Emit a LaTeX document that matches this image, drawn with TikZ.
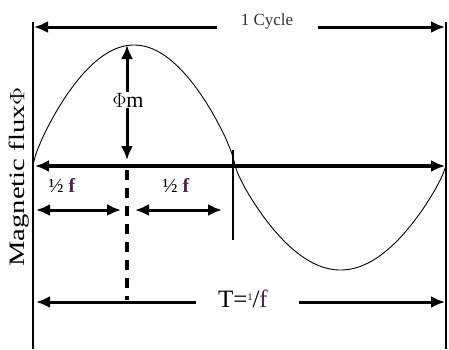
\documentclass[tikz,border=0pt]{standalone}
\usepackage{fontspec}
\setmainfont{Liberation Serif}
\usetikzlibrary{arrows.meta}
\definecolor{fpurple}{HTML}{4A2848}
\definecolor{txtgray}{HTML}{333333}
\tikzset{
  tip/.tip={Latex[length=14pt,width=12pt]},
  dimarrow/.style={line width=3pt, tip-tip},
  onearrow/.style={line width=3pt, -tip},
  axisline/.style={line width=3.2pt, tip-tip},
  thinline/.style={line width=1.3pt},
  curve/.style={line width=0.9pt},
  lbl/.style={inner sep=1pt, fill=white}
}
\begin{document}
\begin{tikzpicture}[x=1pt,y=-1pt]
\useasboundingbox (0,0) rectangle (449,349);
\fill[white] (0,0) rectangle (449,349);
% frame verticals
\coordinate (LT) at (33,22);
\coordinate (LB) at (33,349);
\coordinate (RT) at (446,22);
\coordinate (RB) at (446,349);
\draw[thinline] (LT) -- (LB);
\draw[thinline] (RT) -- (RB);
% sine curve
\draw[curve, domain=33:235, samples=90, smooth, variable=\t] plot (\t,{165-120*pow(max(sin((\t-33)/202*180),0.00001),0.78)});
\draw[curve, domain=235:446, samples=90, smooth, variable=\t] plot (\t,{165+105*pow(max(sin((\t-235)/211*180),0.00001),0.8)});
% top arrow
\coordinate (cL) at (34,27);
\coordinate (cR) at (445,27);
\coordinate (cGL) at (217,27);
\coordinate (cGR) at (318,27);
\node[inner sep=0pt, text=txtgray] (cyc) at (267,21) {\fontsize{17}{18}\selectfont 1 Cycle};
\draw[onearrow] (cGL) -- (cL);
\draw[onearrow] (cGR) -- (cR);
% axis
\coordinate (aL) at (35,166);
\coordinate (aR) at (445,166);
\draw[axisline] (aL) -- (aR);
% Phi m arrow
\coordinate (pT) at (127,45);
\coordinate (pB) at (127,160);
\draw[dimarrow] (pT) -- (pB);
\node[lbl] (phim) at (128,100) {\fontsize{22}{24}\selectfont $\Phi$m};
% dashed vertical
\coordinate (dT) at (127,170);
\coordinate (dB) at (127,300);
\draw[line width=4pt, dash pattern=on 10pt off 8pt] (dT) -- (dB);
% half f arrows
\coordinate (h1L) at (36,210);
\coordinate (h1R) at (121,210);
\coordinate (h2L) at (135,210);
\coordinate (h2R) at (222,210);
\draw[dimarrow] (h1L) -- (h1R);
\draw[dimarrow] (h2L) -- (h2R);
\node (hf1) at (62,185) {\fontsize{20}{22}\selectfont ½ \textcolor{fpurple}{\textbf{f}}};
\node (hf2) at (176,185) {\fontsize{20}{22}\selectfont ½ \textcolor{fpurple}{\textbf{f}}};
% tick at crossing
\coordinate (tT) at (233,150);
\coordinate (tB) at (233,240);
\draw[thinline] (tT) -- (tB);
% bottom arrow
\coordinate (bL) at (36,302);
\coordinate (bR) at (445,302);
\coordinate (bGL) at (196,302);
\coordinate (bGR) at (299,302);
\node[inner sep=0pt] (T) at (243,299) {\fontsize{25}{27}\selectfont T=\raisebox{0.6ex}{\fontsize{10}{11}\selectfont 1}/\textcolor{fpurple}{f}};
\draw[onearrow] (bGL) -- (bL);
\draw[onearrow] (bGR) -- (bR);
% y label
\node[rotate=90, inner sep=0pt] (ylab) at (19,177) {\scalebox{1.3}[1]{\fontsize{22}{24}\selectfont Magnetic flux$\Phi$}};
\end{tikzpicture}
\end{document}
